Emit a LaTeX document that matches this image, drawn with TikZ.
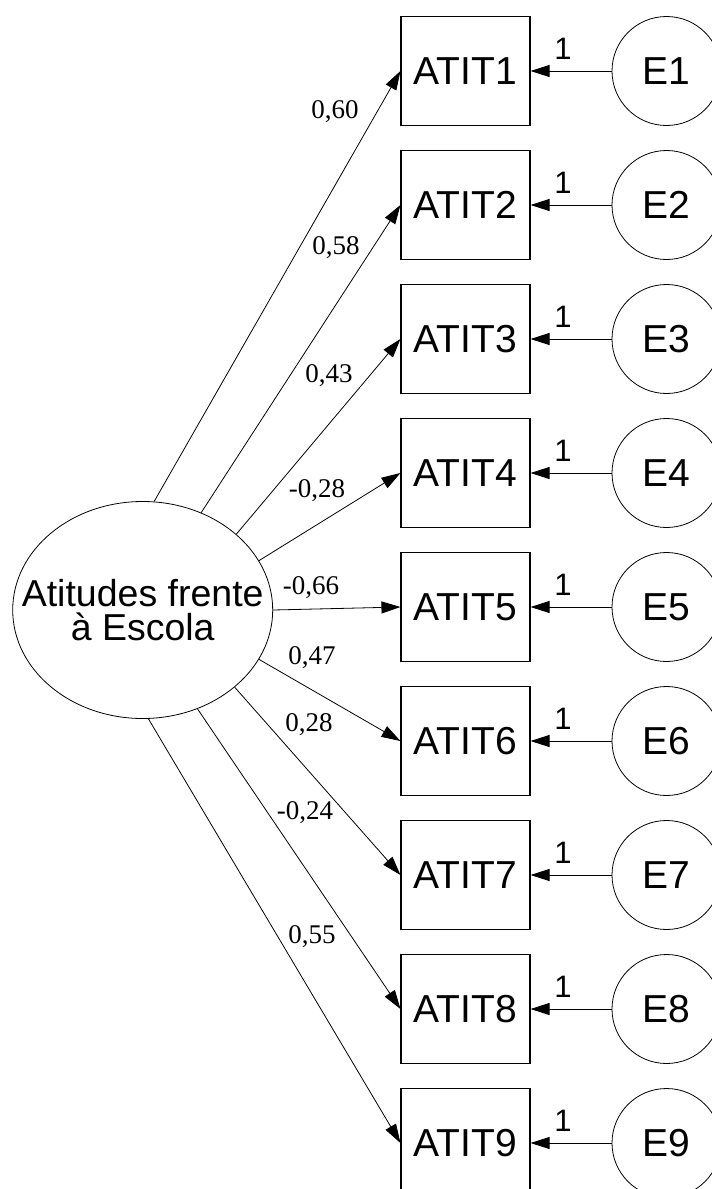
\documentclass[tikz,border=0pt]{standalone}
\usepackage{fontspec}
\setmainfont{Liberation Sans}
\newfontfamily\coeffont{Liberation Serif}
\usetikzlibrary{shapes.geometric,arrows.meta}

\tikzset{
  item/.style={draw,line width=1.1pt,minimum width=129pt,minimum height=109pt,inner sep=0pt,font=\fontsize{39}{39}\selectfont},
  err/.style={draw,circle,line width=0.8pt,minimum size=109pt,inner sep=0pt,font=\fontsize{39}{39}\selectfont},
  load/.style={line width=0.8pt,-{Triangle[length=19pt,width=12pt]}},
  coef/.style={font=\coeffont\fontsize{27}{27}\selectfont,inner sep=0pt},
  one/.style={font=\fontsize{31}{31}\selectfont,inner sep=0pt}
}

\begin{document}
\begin{tikzpicture}[x=1pt,y=-1pt]
\useasboundingbox (0,0) rectangle (712,1189);
\node[draw,ellipse,line width=0.8pt,minimum width=260pt,minimum height=217pt,inner sep=0pt] (att) at (142.7,610) {};
\node[align=center,font=\fontsize{37.5}{34}\selectfont,inner sep=0pt] (attlabel) at (att.center) {Atitudes frente\\\`a Escola};

\node[item] (a1) at (465.5,71) {ATIT1};
\node[item] (a2) at (465.5,205) {ATIT2};
\node[item] (a3) at (465.5,339) {ATIT3};
\node[item] (a4) at (465.5,473) {ATIT4};
\node[item] (a5) at (465.5,607) {ATIT5};
\node[item] (a6) at (465.5,741) {ATIT6};
\node[item] (a7) at (465.5,875) {ATIT7};
\node[item] (a8) at (465.5,1009) {ATIT8};
\node[item] (a9) at (465.5,1143) {ATIT9};

\node[err] (e1) at (666.5,71) {E1};
\node[err] (e2) at (666.5,205) {E2};
\node[err] (e3) at (666.5,339) {E3};
\node[err] (e4) at (666.5,473) {E4};
\node[err] (e5) at (666.5,607) {E5};
\node[err] (e6) at (666.5,741) {E6};
\node[err] (e7) at (666.5,875) {E7};
\node[err] (e8) at (666.5,1009) {E8};
\node[err] (e9) at (666.5,1143) {E9};

\draw[load] (att.84) -- (a1.west);
\draw[load] (att.59) -- (a2.west);
\draw[load] (att.39) -- (a3.west);
\draw[load] (att.23) -- (a4.west);
\draw[load] (att.0) -- (a5.west);
\draw[load] (att.-23) -- (a6.west);
\draw[load] (att.-40) -- (a7.west);
\draw[load] (att.-61) -- (a8.west);
\draw[load] (att.-87) -- (a9.west);

\node[coef] (c1) at (335,112) {0,60};
\node[coef] (c2) at (336,248) {0,58};
\node[coef] (c3) at (329,376) {0,43};
\node[coef] (c4) at (317,491) {-0,28};
\node[coef] (c5) at (311,588) {-0,66};
\node[coef] (c6) at (312,658) {0,47};
\node[coef] (c7) at (309,725) {0,28};
\node[coef] (c8) at (305,813) {-0,24};
\node[coef] (c9) at (312,937) {0,55};

\draw[load] (e1) -- (a1) node[one,pos=0.6,above=11pt] (o1) {1};
\draw[load] (e2) -- (a2) node[one,pos=0.6,above=11pt] (o2) {1};
\draw[load] (e3) -- (a3) node[one,pos=0.6,above=11pt] (o3) {1};
\draw[load] (e4) -- (a4) node[one,pos=0.6,above=11pt] (o4) {1};
\draw[load] (e5) -- (a5) node[one,pos=0.6,above=11pt] (o5) {1};
\draw[load] (e6) -- (a6) node[one,pos=0.6,above=11pt] (o6) {1};
\draw[load] (e7) -- (a7) node[one,pos=0.6,above=11pt] (o7) {1};
\draw[load] (e8) -- (a8) node[one,pos=0.6,above=11pt] (o8) {1};
\draw[load] (e9) -- (a9) node[one,pos=0.6,above=11pt] (o9) {1};
\end{tikzpicture}
\end{document}
